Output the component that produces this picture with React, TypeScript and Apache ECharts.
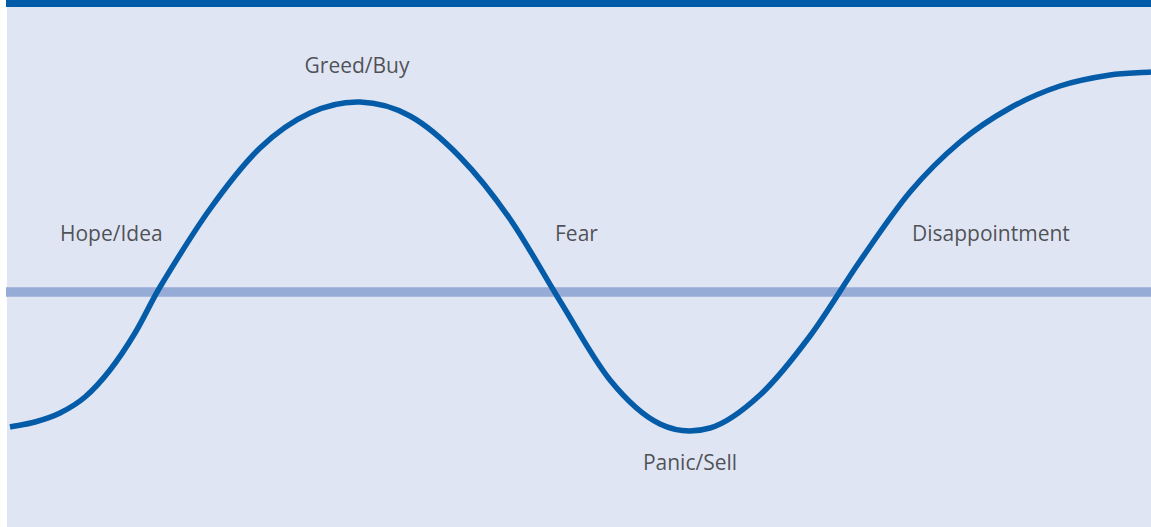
import React, { useEffect, useRef } from "react";
import * as echarts from "echarts";

// Time (x) and sentiment (y) points of the emotional cycle curve
const cycleX = [1.0, 3.5, 6.0, 8.5, 11.0, 13.5, 16.0, 21.0, 26.0, 31.0, 36.0, 41.0, 46.0, 51.0, 56.0, 61.0, 66.0, 71.0, 76.0, 81.0, 86.0, 91.0, 96.0, 101.0, 106.0, 111.0, 115.1];
const cycleY = [-13.5, -13.0, -12.1, -10.5, -7.8, -4.1, 0.5, 8.3, 14.4, 17.9, 19.0, 17.6, 13.5, 7.3, -0.9, -8.8, -13.2, -13.6, -10.3, -4.4, 3.1, 10.0, 15.0, 18.4, 20.6, 21.7, 22.0];

// Neutral baseline
const baselineX = [0.6, 115.1];
const baselineY = [0, 0];

// Phase annotations (anchor in data units)
const phaseNames = ["Hope/Idea", "Greed/Buy", "Fear", "Panic/Sell", "Disappointment"];
const phaseX = [6.0, 35.7, 55.5, 69.0, 91.2];
const phaseY = [5.9, 22.7, 5.9, -17.0, 5.9];
const phaseAlign = ["left", "center", "left", "center", "left"];

export default function App() {
  const ref = useRef<HTMLDivElement>(null);

  useEffect(() => {
    if (!ref.current) return;
    const chart = echarts.init(ref.current, null, { renderer: "svg" });
    const font = "'Open Sans', 'Liberation Sans', sans-serif";
    chart.setOption({
      animation: false,
      backgroundColor: "#ffffff",
      graphic: [
        { type: "rect", shape: { x: 7, y: 7, width: 1144, height: 520 }, style: { fill: "#dfe5f3" }, z: -10 },
        { type: "rect", shape: { x: 6, y: 0, width: 1145, height: 7 }, style: { fill: "#005ca9" }, z: -9 },
      ],
      grid: { left: 6, right: 0, top: 0, bottom: 0 },
      xAxis: { type: "value", min: 0.6, max: 115.1, show: false },
      yAxis: { type: "value", min: -23.5, max: 29.2, show: false },
      series: [
        {
          type: "line",
          data: baselineX.map((x, i) => [x, baselineY[i]]),
          symbol: "none",
          lineStyle: { color: "#97abd7", width: 9.5, cap: "butt" },
          z: 1,
          silent: true,
        },
        {
          type: "custom",
          z: 3,
          silent: true,
          clip: false,
          data: [[cycleX[0], cycleY[0]]],
          renderItem: (params: any, api: any) => {
            const pts = cycleX.map((x, i) => api.coord([x, cycleY[i]]));
            const n = pts.length;
            // slopes (dy/dx in pixels) for a smooth curve through the points
            const m = pts.map((p: number[], i: number) => {
              const a = pts[Math.max(0, i - 1)];
              const b = pts[Math.min(n - 1, i + 1)];
              return (b[1] - a[1]) / (b[0] - a[0]);
            });
            let d = `M${pts[0][0]},${pts[0][1]}`;
            for (let i = 0; i < n - 1; i++) {
              const p1 = pts[i];
              const p2 = pts[i + 1];
              const h = (p2[0] - p1[0]) / 3;
              d += ` C${p1[0] + h},${p1[1] + m[i] * h} ${p2[0] - h},${p2[1] - m[i + 1] * h} ${p2[0]},${p2[1]}`;
            }
            return {
              type: "path",
              shape: { pathData: d },
              style: { fill: "none", stroke: "#045ca9", lineWidth: 5.5, lineCap: "butt" },
            };
          },
        },
        {
          type: "scatter",
          symbolSize: 0,
          z: 4,
          silent: true,
          data: phaseNames.map((n, i) => ({
            value: [phaseX[i], phaseY[i]],
            name: n,
            label: {
              show: true,
              position: "inside",
              formatter: n,
              align: phaseAlign[i],
              verticalAlign: "middle",
              color: "#2a2a2c",
              fontSize: 21,
              fontFamily: font,
            },
          })),
        },
      ],
    });
    return () => chart.dispose();
  }, []);

  return (
    <div
      ref={ref}
      style={{ position: "fixed", left: 0, top: 0, width: 1151, height: 527 }}
    />
  );
}
